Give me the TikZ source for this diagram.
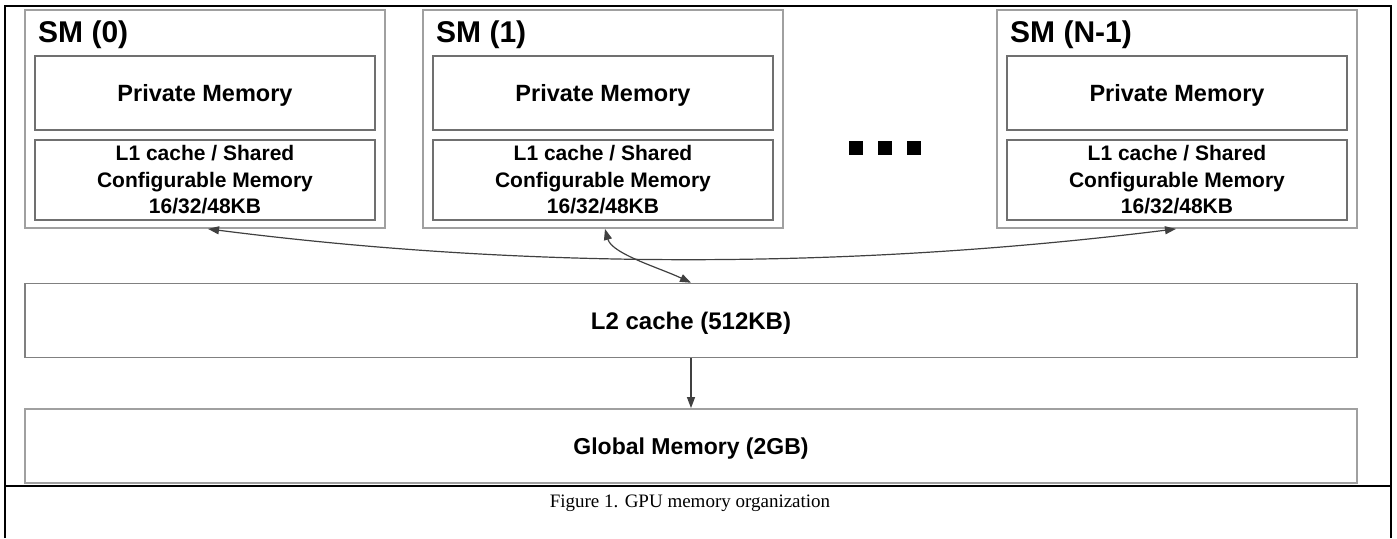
\documentclass[tikz,border=0pt]{standalone}
\usepackage{fontspec}
\setmainfont{Liberation Sans}
\newfontfamily\capfont{Liberation Serif}
\usetikzlibrary{arrows.meta}
\definecolor{smgray}{HTML}{A0A0A0}
\definecolor{ingray}{HTML}{707070}
\definecolor{boxgray}{HTML}{808080}
\definecolor{arrgray}{HTML}{404040}
\tikzset{
  smbox/.style={draw=smgray, line width=1.8pt, minimum width=360pt, minimum height=218pt, inner sep=0pt},
  privbox/.style={draw=ingray, line width=1.2pt, minimum width=340pt, minimum height=74pt, inner sep=0pt,
    font=\fontsize{23.5}{26}\selectfont\bfseries, text depth=0pt},
  lonebox/.style={draw=ingray, line width=1.2pt, minimum width=340pt, minimum height=80pt, inner sep=0pt,
    align=center, font=\fontsize{21}{26.5}\selectfont\bfseries},
  smtitle/.style={anchor=base west, inner sep=0pt, font=\fontsize{30}{30}\selectfont\bfseries},
  widebox/.style={draw=boxgray, line width=1.5pt, minimum width=1332pt, minimum height=74pt, inner sep=0pt,
    text depth=0pt},
  dotsq/.style={fill=black, minimum size=14pt, inner sep=0pt},
  conn/.style={draw=arrgray, line width=1.2pt},
  tipb/.style={conn, {Triangle[length=11pt,width=8pt]}-{Triangle[length=11pt,width=8pt]}},
  tipe/.style={conn, -{Triangle[length=11pt,width=8pt]}},
  frame/.style={draw=black, line width=2pt}
}
\begin{document}
\begin{tikzpicture}[x=1pt,y=-1pt]
\useasboundingbox (0,0) rectangle (1397,538);
% outer frame
\coordinate (ftl) at (5,6);
\coordinate (ftr) at (1391,6);
\coordinate (fbl) at (5,538);
\coordinate (fbr) at (1391,538);
\coordinate (fml) at (5,486);
\coordinate (fmr) at (1391,486);
\draw[frame] (fbl) -- (ftl) -- (ftr) -- (fbr);
\draw[frame] (fml) -- (fmr);

% SM blocks
\foreach \cx/\nm/\lab in {205/sma/SM (0), 603/smb/SM (1), 1177/smc/SM (N-1)}{
  \node[smbox] (\nm) at (\cx,119) {};
  \node[smtitle] (\nm t) at (\cx-167,42) {\lab};
  \node[privbox] (\nm p) at (\cx,93) {Private Memory};
  \node[lonebox] (\nm l) at (\cx,180) {L1 cache / Shared\\Configurable Memory\\16/32/48KB};
}

% dots
\node[dotsq] (d1) at (855.5,147.5) {};
\node[dotsq] (d2) at (885,147.5) {};
\node[dotsq] (d3) at (914,147.5) {};

% L2 and global
\node[widebox, font=\fontsize{24}{26}\selectfont\bfseries] (l2) at (691,320.5) {L2 cache (512KB)};
\node[widebox, draw=smgray, line width=1.8pt, font=\fontsize{23}{26}\selectfont\bfseries] (gm) at (691,446) {Global Memory (2GB)};

% connectors
\draw[tipb] ([xshift=3pt]sma.south) .. controls (530,270) and (853,269) .. ([xshift=-1pt]smc.south);
\draw[tipb] ([xshift=2pt]smb.south) .. controls (612,254) and (660,268) .. (l2.north);
\draw[tipe] (l2.south) -- (gm.north);

% caption
\node[anchor=base, inner sep=0pt, font=\capfont\fontsize{19}{19}\selectfont] (cap) at (690,507) {Figure 1. GPU memory organization};
\end{tikzpicture}
\end{document}
